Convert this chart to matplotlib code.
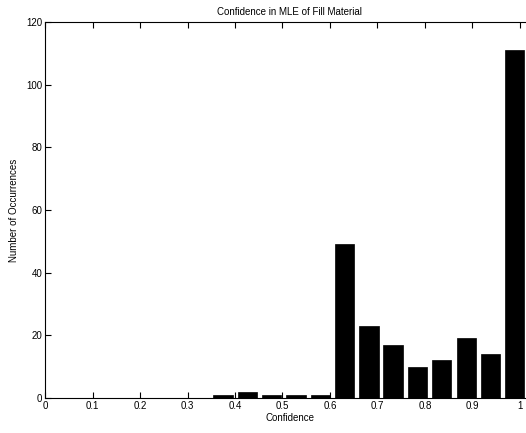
import matplotlib
matplotlib.use("Agg")
import matplotlib.pyplot as plt

# histogram bin centres (confidence) and counts
bin_centers = [0.375, 0.426, 0.477, 0.528, 0.580, 0.631, 0.682,
               0.733, 0.784, 0.835, 0.887, 0.938, 0.989]
counts = [1, 2, 1, 1, 1, 49, 23, 17, 10, 12, 19, 14, 111]
bin_width = 0.0512

x_ticks = [0, 0.1, 0.2, 0.3, 0.4, 0.5, 0.6, 0.7, 0.8, 0.9, 1.0]
x_tick_labels = ["0", "0.1", "0.2", "0.3", "0.4", "0.5", "0.6", "0.7", "0.8", "0.9", "1"]
y_ticks = [0, 20, 40, 60, 80, 100, 120]

plt.rcParams['font.family'] = ['Liberation Sans', 'DejaVu Sans']

fig = plt.figure(figsize=(5.26, 4.33), dpi=100)
# axes run a bit past the right edge, like the cropped scan
ax = fig.add_axes([0.0856, 0.081, 0.93, 0.868])

ax.bar(bin_centers, counts, width=bin_width * 0.8, color="black", edgecolor="black", linewidth=0.5)

ax.set_xlim(0, 1.03)
ax.set_ylim(0, 120)
ax.set_xticks(x_ticks)
ax.set_xticklabels(x_tick_labels)
ax.set_yticks(y_ticks)

ax.tick_params(direction="in", top=True, right=True, length=4, width=0.8, labelsize=7, pad=2)
for s in ax.spines.values():
    s.set_linewidth(0.8)

ax.set_title("Confidence in MLE of Fill Material", fontsize=7, pad=5)
ax.set_xlabel("Confidence", fontsize=7, labelpad=2)
ax.set_ylabel("Number of Occurrences", fontsize=7, labelpad=5)

fig.savefig("out.png", dpi=100)
